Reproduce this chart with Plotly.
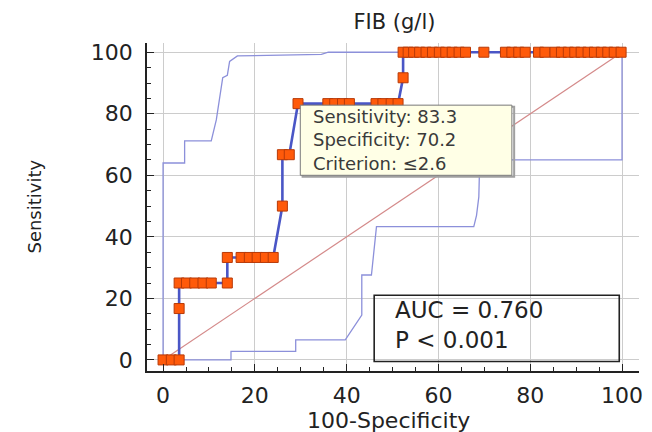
import plotly.graph_objects as go

# ROC curve (100-Specificity, Sensitivity)
roc_x = [0, 1.8, 3.5, 3.5, 3.5, 5.1, 6.9, 8.7, 10.5, 14.0, 14.0, 17.0, 18.8, 20.5, 22.3, 24.0,
         26.0, 26.0, 27.5, 29.4, 35.9, 37.4, 39.1, 40.6, 46.4, 47.9, 49.7, 51.2, 52.3,
         52.3, 53.4, 54.6, 55.9, 57.3, 58.7, 60.2, 61.6, 63.0, 64.5, 65.9, 69.9,
         74.6, 76.0, 77.5, 78.9, 81.8, 83.2, 85.4, 86.8, 88.3, 89.7, 91.1, 92.6,
         94.0, 95.5, 96.9, 98.3, 99.8]
roc_y = [0, 0, 0, 16.7, 25, 25, 25, 25, 25, 25, 33.3, 33.3, 33.3, 33.3, 33.3, 33.3,
         50, 66.7, 66.7, 83.3, 83.3, 83.3, 83.3, 83.3, 83.3, 83.3, 83.3, 83.3, 91.7,
         100, 100, 100, 100, 100, 100, 100, 100, 100, 100, 100, 100,
         100, 100, 100, 100, 100, 100, 100, 100, 100, 100, 100, 100,
         100, 100, 100, 100, 100]

# Upper confidence bound
up_x = [0, 0, 4.7, 4.7, 10.5, 11.6, 13.0, 14.0, 14.5, 16.2, 34.5, 36.0, 100]
up_y = [0, 64, 64, 71.2, 71.2, 78, 91.7, 92.5, 97, 98.8, 99.3, 100, 100]

# Lower confidence bound
lo_x = [0, 14.8, 14.8, 28.9, 28.9, 39.7, 43.3, 43.3, 45.4, 46.5, 67.7, 68.3, 68.8, 69.0, 100, 100]
lo_y = [0, 0, 2.8, 2.8, 6.5, 6.5, 14.6, 27.6, 27.6, 43.3, 43.3, 47, 53, 65, 65, 100]

diag = [0, 100]

tick_vals = [0, 20, 40, 60, 80, 100]
tick_text = ["0", "20", "40", "60", "80", "100"]

title_text = "FIB (g/l)"
x_title = "100-Specificity"
y_title = "Sensitivity"
tip_lines = ["Sensitivity: 83.3", "Specificity: 70.2", "Criterion: ≤2.6"]
auc_lines = ["AUC = 0.760", "P &lt; 0.001"]

FONT = "DejaVu Sans"

fig = go.Figure()
fig.add_trace(go.Scatter(x=diag, y=diag, mode="lines",
                         line=dict(color="#D48A8A", width=1.2), hoverinfo="skip"))
fig.add_trace(go.Scatter(x=up_x, y=up_y, mode="lines",
                         line=dict(color="#8C90DA", width=1.3), hoverinfo="skip"))
fig.add_trace(go.Scatter(x=lo_x, y=lo_y, mode="lines",
                         line=dict(color="#8C90DA", width=1.3), hoverinfo="skip"))
fig.add_trace(go.Scatter(x=roc_x, y=roc_y, mode="lines+markers",
                         line=dict(color="#4A56C6", width=2.6),
                         marker=dict(symbol="square", size=10, color="#FF5A0A",
                                     line=dict(color="#B83A08", width=1))))

# tooltip box
fig.add_shape(type="rect", xref="x", yref="y", x0=30.4, x1=76.5, y0=59.5, y1=82.3,
              line=dict(color="#A0A0A0", width=2), fillcolor="rgba(0,0,0,0)", layer="above")
fig.add_shape(type="rect", xref="x", yref="y", x0=29.9, x1=76.0, y0=60.0, y1=82.8,
              line=dict(color="#7A7A7A", width=1), fillcolor="#FFFFE6", layer="above")
fig.add_annotation(x=32.2, y=71.4, xref="x", yref="y", xanchor="left", yanchor="middle",
                   text="<br>".join(tip_lines), showarrow=False, align="left",
                   font=dict(family=FONT, size=18, color="#3A3A3A"))

# AUC box
fig.add_shape(type="rect", xref="x", yref="y", x0=46.0, x1=99.4, y0=-0.5, y1=21.0,
              line=dict(color="#222222", width=1.6), fillcolor="rgba(0,0,0,0)", layer="above")
fig.add_annotation(x=50.0, y=11.2, xref="x", yref="y", xanchor="left", yanchor="middle",
                   text="<br>".join(auc_lines), showarrow=False, align="left",
                   font=dict(family=FONT, size=23, color="#222222"))

# axis titles
fig.add_annotation(x=-0.256, y=0.5, xref="paper", yref="paper", text=y_title,
                   textangle=-90, showarrow=False,
                   font=dict(family=FONT, size=18, color="#222222"))
fig.add_annotation(x=0.49, y=-0.152, xref="paper", yref="paper", text=x_title,
                   showarrow=False, yanchor="middle",
                   font=dict(family=FONT, size=22, color="#222222"))

axis_common = dict(
    tickmode="array", tickvals=tick_vals, ticktext=tick_text,
    ticks="inside", ticklen=7, tickwidth=1.3, tickcolor="#222222",
    showline=True, linecolor="#222222", linewidth=1.5,
    showgrid=True, gridcolor="#CCCCCC", gridwidth=1,
    zeroline=False,
    tickfont=dict(family=FONT, size=22, color="#222222"),
    minor=dict(dtick=5, tick0=0, ticks="inside", ticklen=4, tickwidth=1,
               tickcolor="#222222", showgrid=False),
)

fig.update_layout(
    width=652, height=432,
    margin=dict(l=147, r=9, t=43, b=61),
    paper_bgcolor="white", plot_bgcolor="white",
    showlegend=False,
    title=dict(text=title_text, x=0.605, xanchor="center", y=0.949, yanchor="middle",
               yref="container", font=dict(family=FONT, size=21, color="#222222")),
    xaxis=dict(range=[-3.5, 103.7], ticklabelstandoff=4, **axis_common),
    yaxis=dict(range=[-3.6, 103.0], ticklabelstandoff=8, **axis_common),
)

fig.write_html("out.html")
